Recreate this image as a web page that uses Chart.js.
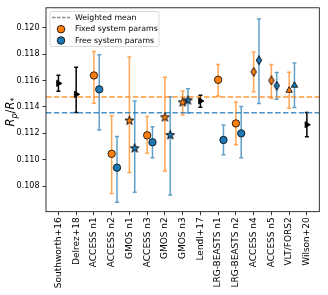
<!DOCTYPE html>
<html><head><meta charset="utf-8">
<script src="https://cdn.jsdelivr.net/npm/chart.js@4.4.1/dist/chart.umd.min.js"></script>
<style>html,body{margin:0;padding:0;background:#fff}#wrap{width:328px;height:295px}</style>
</head><body><div id="wrap"><canvas id="c" width="328" height="295"></canvas></div>
<script>
const categories = ['Southworth+16','Delrez+18','ACCESS n1','ACCESS n2','GMOS n1','ACCESS n3','GMOS n2','GMOS n3','Lendl+17','LRG-BEASTS n1','LRG-BEASTS n2','ACCESS n4','ACCESS n5','VLT/FORS2','Wilson+20'];
const yTicks = [0.108,0.110,0.112,0.114,0.116,0.118,0.120];

const fixedIdx    = [2,3,4,5,6,7,9,10,11,12,13];
const fixedMarker = ['circle','circle','star','circle','star','star','circle','circle','diamond','diamond','triangle'];
const fixedVal = [0.11638,0.11045,0.11300,0.11185,0.11325,0.11438,0.11605,0.11275,0.11665,0.11600,0.11525];
const fixedUp  = [0.11820,0.11333,0.11778,0.11328,0.11625,0.11520,0.11720,0.11438,0.11815,0.11720,0.11663];
const fixedLo  = [0.11428,0.10745,0.10903,0.11050,0.10915,0.11338,0.11483,0.11113,0.11515,0.11465,0.11390];

const freeVal = [0.11533,0.10940,0.11090,0.11132,0.11190,0.11453,0.11150,0.11200,0.11753,0.11560,0.11563];
const freeUp  = [0.11795,0.11177,0.11445,0.11250,0.11477,0.11537,0.11263,0.11403,0.12065,0.11660,0.11733];
const freeLo  = [0.11225,0.10678,0.10755,0.11015,0.10733,0.11353,0.11038,0.11015,0.11425,0.11458,0.11395];

const litIdx = [0,1,8,14];
const litVal = [0.11578,0.11495,0.11445,0.11265];
const litUp  = [0.11640,0.11700,0.11488,0.11357];
const litLo  = [0.11518,0.11357,0.11398,0.11175];

const fixedMean = 0.11475;
const freeMean  = 0.11356;

const ORANGE = '#ff7f0e', BLUE = '#1f77b4';
const FREE_OFFSET = 0.3;

function makeStar(fill){
  const s=11, c=document.createElement('canvas'); c.width=s; c.height=s;
  const g=c.getContext('2d'); const cx=s/2, cy=s/2+0.5, R=4.7, r=1.9;
  g.beginPath();
  for(let k=0;k<10;k++){const a=-Math.PI/2+k*Math.PI/5; const rr=k%2?r:R; g.lineTo(cx+rr*Math.cos(a), cy+rr*Math.sin(a));}
  g.closePath(); g.fillStyle=fill; g.fill(); g.lineWidth=0.9; g.strokeStyle='#000'; g.stroke();
  return c;
}
function makeDiamond(fill){
  const w=8, h=10, c=document.createElement('canvas'); c.width=w; c.height=h;
  const g=c.getContext('2d');
  g.beginPath(); g.moveTo(w/2,0.6); g.lineTo(w-1.3,h/2); g.lineTo(w/2,h-0.6); g.lineTo(1.3,h/2); g.closePath();
  g.fillStyle=fill; g.fill(); g.lineWidth=0.9; g.strokeStyle='#000'; g.stroke();
  return c;
}
function styles(fill){
  const st={star:makeStar(fill), diamond:makeDiamond(fill)};
  return fixedMarker.map(m=>st[m]||m);
}

const errorBars = {
  id:'errorBars',
  beforeDatasetsDraw(chart){
    const ctx=chart.ctx, xs=chart.scales.x, ys=chart.scales.y;
    const groups=[
      {idx:fixedIdx, off:0, up:fixedUp, lo:fixedLo, col:'rgba(255,127,14,0.7)'},
      {idx:fixedIdx, off:FREE_OFFSET, up:freeUp, lo:freeLo, col:'rgba(31,119,180,0.7)'},
      {idx:litIdx, off:0, up:litUp, lo:litLo, col:'#000'}
    ];
    ctx.save(); ctx.lineWidth=1.5;
    groups.forEach(gr=>{
      ctx.strokeStyle=gr.col;
      gr.idx.forEach((i,k)=>{
        const x=xs.getPixelForValue(i+gr.off), y1=ys.getPixelForValue(gr.up[k]), y2=ys.getPixelForValue(gr.lo[k]);
        ctx.beginPath(); ctx.moveTo(x,y1); ctx.lineTo(x,y2);
        ctx.moveTo(x-2,y1); ctx.lineTo(x+2,y1); ctx.moveTo(x-2,y2); ctx.lineTo(x+2,y2); ctx.stroke();
      });
    });
    ctx.restore();
  }
};

const decor = {
  id:'decor',
  afterDraw(chart){
    const ctx=chart.ctx, a=chart.chartArea;
    ctx.save();
    ctx.strokeStyle='#000'; ctx.lineWidth=0.8;
    ctx.strokeRect(a.left, a.top, a.right-a.left, a.bottom-a.top);
    // y title
    ctx.translate(10, 112); ctx.rotate(-Math.PI/2);
    ctx.fillStyle='#000'; ctx.textBaseline='alphabetic';
    const big='italic 11.5px "DejaVu Sans"', small='italic 8px "DejaVu Sans"', smallN='8px "DejaVu Sans"', norm='11.5px "DejaVu Sans"';
    const parts=[['R',big,0],['p',small,2.5],['/',norm,0],['R',big,0],['*',smallN,3]];
    let w=0; parts.forEach(p=>{ctx.font=p[1]; w+=ctx.measureText(p[0]).width;});
    let x=-w/2; parts.forEach(p=>{ctx.font=p[1]; ctx.fillText(p[0],x,4+p[2]); x+=ctx.measureText(p[0]).width;});
    ctx.restore();
    // legend
    ctx.save();
    const lx=50, ly=11.5, lw=109, lh=35;
    ctx.beginPath(); ctx.roundRect(lx,ly,lw,lh,2);
    ctx.fillStyle='rgba(255,255,255,0.8)'; ctx.fill(); ctx.strokeStyle='#d0d0d0'; ctx.lineWidth=0.8; ctx.stroke();
    ctx.font='7.8px "DejaVu Sans"'; ctx.fillStyle='#000'; ctx.textBaseline='middle';
    const rows=[ly+6, ly+17.7, ly+29];
    ctx.strokeStyle='rgba(128,128,128,0.9)'; ctx.lineWidth=1.5; ctx.setLineDash([3.5,1.5]);
    ctx.beginPath(); ctx.moveTo(lx+2,rows[0]); ctx.lineTo(lx+20,rows[0]); ctx.stroke(); ctx.setLineDash([]);
    [[ORANGE,rows[1]],[BLUE,rows[2]]].forEach(([c,y])=>{ctx.beginPath(); ctx.arc(lx+11,y,3.8,0,Math.PI*2); ctx.fillStyle=c; ctx.fill(); ctx.strokeStyle='#000'; ctx.lineWidth=0.8; ctx.stroke();});
    ctx.fillStyle='#000';
    ctx.fillText('Weighted mean', lx+25, rows[0]);
    ctx.fillText('Fixed system params', lx+25, rows[1]);
    ctx.fillText('Free system params', lx+25, rows[2]);
    ctx.restore();
  }
};

Chart.defaults.font.family='"DejaVu Sans"';
new Chart(document.getElementById('c'), {
  type:'scatter',
  data:{datasets:[
    {label:'Fixed system params', data:fixedIdx.map((i,k)=>({x:i,y:fixedVal[k]})), pointStyle:styles(ORANGE), backgroundColor:ORANGE, borderColor:'#000', borderWidth:0.8, pointRadius:3.7, order:1},
    {label:'Free system params', data:fixedIdx.map((i,k)=>({x:i+FREE_OFFSET,y:freeVal[k]})), pointStyle:styles(BLUE), backgroundColor:BLUE, borderColor:'#000', borderWidth:0.8, pointRadius:3.7, order:1},
    {label:'Literature', data:litIdx.map((i,k)=>({x:i,y:litVal[k]})), pointStyle:'triangle', rotation:90, backgroundColor:'#000', borderColor:'#000', borderWidth:0.8, pointRadius:3.6, order:1},
    {type:'line', label:'mean fixed', data:[{x:-0.7,y:fixedMean},{x:14.7,y:fixedMean}], borderColor:'rgba(255,127,14,0.8)', borderWidth:1.5, borderDash:[5.5,2.4], pointRadius:0, order:10},
    {type:'line', label:'mean free', data:[{x:-0.7,y:freeMean},{x:14.7,y:freeMean}], borderColor:'rgba(31,119,180,0.8)', borderWidth:1.5, borderDash:[5.5,2.4], pointRadius:0, order:10}
  ]},
  options:{
    responsive:false, animation:false, devicePixelRatio:1,
    layout:{padding:{top:6,right:8.7,left:0,bottom:0}},
    plugins:{legend:{display:false}, tooltip:{enabled:false}},
    scales:{
      x:{type:'linear', min:-0.7, max:14.7,
        afterBuildTicks:s=>{s.ticks=categories.map((_,i)=>({value:i}));},
        afterFit:s=>{s.height=83.3;},
        ticks:{callback:v=>categories[v], autoSkip:false, maxRotation:90, minRotation:90, font:{size:9}, color:'#000', padding:2},
        grid:{drawOnChartArea:false, tickLength:3.5, color:'#000', lineWidth:0.8}, border:{display:false}},
      y:{min:0.10607, max:0.1215,
        afterBuildTicks:s=>{s.ticks=yTicks.map(v=>({value:v}));},
        afterFit:s=>{s.width=46;},
        ticks:{callback:v=>v.toFixed(3), font:{size:8}, color:'#000', padding:3},
        grid:{drawOnChartArea:false, tickLength:3.5, color:'#000', lineWidth:0.8}, border:{display:false}}
    }
  },
  plugins:[errorBars, decor]
});
</script></body></html>
